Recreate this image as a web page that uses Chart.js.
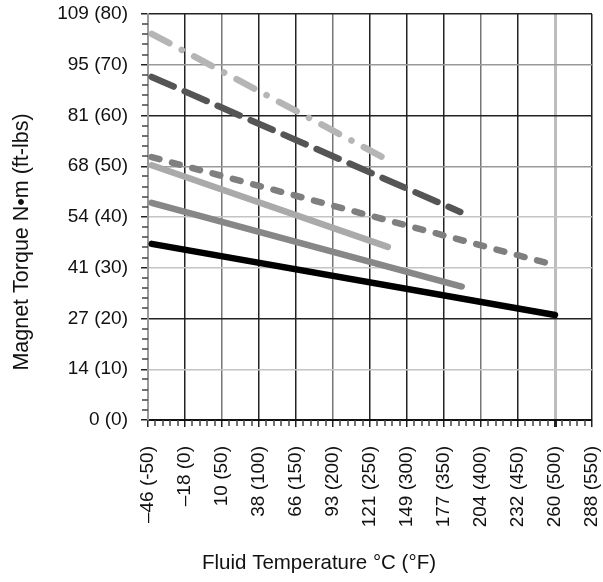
<!DOCTYPE html>
<html>
<head>
<meta charset="utf-8">
<script src="https://cdn.jsdelivr.net/npm/chart.js@4.4.1/dist/chart.umd.min.js"></script>
<style>
  html, body { margin: 0; padding: 0; background: #fff; }
  #wrap { width: 603px; height: 582px; }
</style>
</head>
<body>
<div id="wrap"><canvas id="c" width="603" height="582"></canvas></div>
<script>
// ---- Data ----
const xTicksF = [-50, 0, 50, 100, 150, 200, 250, 300, 350, 400, 450, 500, 550];
const xTicksC = ['–46', '–18', '10', '38', '66', '93', '121', '149', '177', '204', '232', '260', '288'];
const yTicksFt = [0, 10, 20, 30, 40, 50, 60, 70, 80];
const yTicksNm = [0, 14, 27, 41, 54, 68, 81, 95, 109];

const lightDashDotF = [-45, 276];
const lightDashDotT = [76.1, 51.1];
const darkLongDashF = [-45, 372];
const darkLongDashT = [67.6, 41.0];
const midShortDashF = [-45, 500];
const midShortDashT = [51.8, 30.5];
const lightSolidF = [-45, 274];
const lightSolidT = [50.2, 34.1];
const midSolidF = [-45, 374];
const midSolidT = [42.8, 26.3];
const blackSolidF = [-45, 500];
const blackSolidT = [34.7, 20.7];

const xTitle = 'Fluid Temperature °C (°F)';
const yTitle = 'Magnet Torque N•m (ft-lbs)';

const yMinorStep = 2;
const xMinorStep = 10;

function pts(xs, ys) { return xs.map((x, i) => ({ x: x, y: ys[i] })); }

const grayX = [50, 200, 400];
const darkY = [20, 60, 80, 0];
const grayY = [50, 70];

const minorTicks = {
  id: 'minorTicks',
  afterDraw(chart) {
    const { ctx, scales: { x, y }, chartArea: a } = chart;
    ctx.save();
    ctx.strokeStyle = '#444';
    ctx.lineWidth = 1.5;
    for (let v = y.min; v <= y.max; v += yMinorStep) {
      if (v % 10 === 0) continue;
      const p = Math.round(y.getPixelForValue(v));
      ctx.beginPath(); ctx.moveTo(a.left - 6, p); ctx.lineTo(a.left, p); ctx.stroke();
    }
    for (let v = x.min; v <= x.max; v += xMinorStep) {
      if (v % 50 === 0) continue;
      const p = Math.round(x.getPixelForValue(v));
      ctx.beginPath(); ctx.moveTo(p, a.bottom); ctx.lineTo(p, a.bottom + 6); ctx.stroke();
    }
    ctx.restore();
  }
};

// Axis titles (placed relative to the chart area, as in the reference)
const axisTitles = {
  id: 'axisTitles',
  afterDraw(chart) {
    const { ctx, chartArea: a } = chart;
    ctx.save();
    ctx.fillStyle = '#111';
    ctx.textAlign = 'center';
    ctx.textBaseline = 'middle';
    ctx.font = '20.5px "Liberation Sans", Arial, sans-serif';
    ctx.fillText(xTitle, (a.left + a.right) / 2 - 51, a.bottom + 143);
    ctx.translate(a.left - 126, (a.top + a.bottom) / 2 + 25);
    ctx.rotate(-Math.PI / 2);
    ctx.font = '21.5px "Liberation Sans", Arial, sans-serif';
    ctx.fillText(yTitle, 0, 0);
    ctx.restore();
  }
};

const common = { pointRadius: 0, borderWidth: 6.5, fill: false, tension: 0, borderCapStyle: 'round', borderJoinStyle: 'round' };

new Chart(document.getElementById('c'), {
  type: 'line',
  data: {
    datasets: [
      Object.assign({ data: pts(lightDashDotF, lightDashDotT), borderColor: '#b5b5b5', borderDash: [20, 14, 0.1, 14] }, common),
      Object.assign({ data: pts(darkLongDashF, darkLongDashT), borderColor: '#555555', borderDash: [24, 12] }, common),
      Object.assign({ data: pts(midShortDashF, midShortDashT), borderColor: '#7f7f7f', borderDash: [8, 13] }, common),
      Object.assign({ data: pts(lightSolidF, lightSolidT), borderColor: '#aaaaaa' }, common),
      Object.assign({ data: pts(midSolidF, midSolidT), borderColor: '#878787' }, common),
      Object.assign({ data: pts(blackSolidF, blackSolidT), borderColor: '#000000' }, common)
    ]
  },
  options: {
    responsive: false,
    animation: false,
    devicePixelRatio: 1,
    layout: { padding: { top: 14, right: 11, left: 0, bottom: 0 } },
    plugins: { legend: { display: false }, tooltip: { enabled: false } },
    scales: {
      x: {
        type: 'linear',
        min: -50, max: 550,
        afterFit(s) { s.height = 162; s.paddingLeft = 0; s.paddingRight = 0; },
        afterBuildTicks(s) { s.ticks = xTicksF.map(v => ({ value: v })); },
        ticks: {
          stepSize: 50,
          minRotation: 90, maxRotation: 90,
          padding: 19,
          color: '#111',
          font: { family: 'Liberation Sans, Arial, sans-serif', size: 19 },
          callback: (v) => { const i = xTicksF.indexOf(v); return i < 0 ? '' : xTicksC[i] + ' (' + v + ')'; }
        },
        grid: {
          color: (c) => {
            const v = c.tick && c.tick.value;
            if (v === 500) return '#bdbdbd';
            if (v === -50) return '#999999';
            if (grayX.includes(v)) return '#777777';
            return '#222222';
          },
          lineWidth: (c) => (c.tick && c.tick.value === 500) ? 3 : 1.5,
          tickColor: '#222222',
          tickLength: 7
        },
        border: { color: '#111', width: 2 },
        title: { display: false }
      },
      y: {
        type: 'linear',
        min: 0, max: 80,
        afterFit(s) { s.width = 148; s.paddingTop = 0; s.paddingBottom = 0; },
        afterBuildTicks(s) { s.ticks = yTicksFt.map(v => ({ value: v })); },
        ticks: {
          stepSize: 10,
          padding: 13,
          color: '#111',
          font: { family: 'Liberation Sans, Arial, sans-serif', size: 19 },
          callback: (v) => { const i = yTicksFt.indexOf(v); return i < 0 ? '' : yTicksNm[i] + ' (' + v + ')'; }
        },
        grid: {
          color: (c) => {
            const v = c.tick && c.tick.value;
            if (darkY.includes(v)) return '#222222';
            if (grayY.includes(v)) return '#999999';
            return '#c4c4c4';
          },
          lineWidth: 1.5,
          tickColor: '#222222',
          tickLength: 7
        },
        border: { color: '#999', width: 2 },
        title: { display: false }
      }
    }
  },
  plugins: [minorTicks, axisTitles]
});
</script>
</body>
</html>
